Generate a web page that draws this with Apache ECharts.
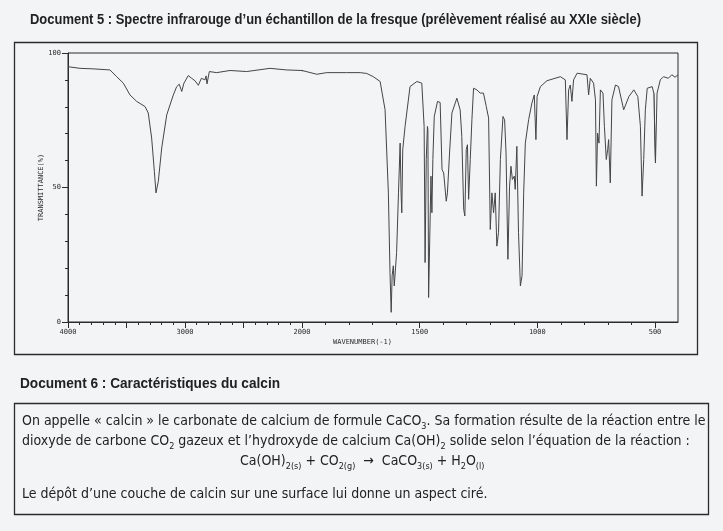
<!DOCTYPE html>
<html><head><meta charset="utf-8">
<script src="https://cdn.jsdelivr.net/npm/echarts@6/dist/echarts.min.js"></script>
<style>html,body{margin:0;padding:0;background:#f2f4f6}#c{width:723px;height:531px}</style>
</head><body><div id="c"></div>
<script>
// ---- data ----
const wavenumbers = [4000,3897,3784,3641,3584,3527,3470,3413,3342,3314,3285,3262,3248,3228,3199,3156,3100,3071,3049,3028,3009,2972,2943,2915,2886,2860,2829,2820,2812,2792,2729,2615,2473,2274,2131,2000,
1937,1895,1810,1753,1725,1697,1668,1661,1647,1633,1626,1621,1617,1612,1608,1598,1590,1583,1579,1576,1572,1562,1541,1512,1491,1481,1477,1472,1467,1465,1462,1452,1448,1444,1438,1424,1413,1405,1398,1387,1382,1373,1363,1342,1328,1321,1313,1308,1302,1297,1292,1285,1278,1271,1257,1243,1229,1217,1207,1200,1193,1186,1179,1172,1165,1157,1146,1139,1133,1125,1118,1112,1106,1098,1094,1087,1080,1072,1065,1058,1051,1037,1023,1013,1006,1001,987,959,902,881,874,867,860,853,846,831,789,782,775,767,761,753,749,744,738,732,721,715,707,701,697,690,683,668,655,633,611,590,573,562,555,548,541,533,512,505,498,491,477,463,442,427,413,400];
const transmittance = [94.9,94.3,94.1,93.7,91.2,88.8,84.4,82.0,80.1,77.7,68.4,56.0,48.0,52.3,64.7,77.0,84.4,87.5,88.4,85.7,88.8,91.6,90.6,89.7,88.0,90.6,90.0,91.5,88.5,93.1,92.7,93.5,93.1,94.3,93.7,93.5,
92.1,92.7,92.7,92.7,92.4,91.2,89.4,88.8,78.9,48.0,18.4,3.6,17.2,20.9,13.4,25.8,48.0,66.5,48.0,40.6,64.0,72.7,87.5,89.4,88.8,72.7,22.1,60.4,72.7,71.5,9.1,54.2,40.6,60.4,76.4,82.0,81.6,56.7,55.4,44.9,48.0,62.8,77.7,83.2,78.9,69.0,41.9,39.4,64.1,65.9,45.6,60.4,75.2,86.9,86.3,85.1,85.1,80.1,75.8,34.4,48.0,40.6,48.0,28.2,33.2,60.4,76.4,75.2,62.8,23.3,50.5,57.9,53.0,54.2,49.3,65.3,33.2,13.4,17.2,48.0,66.5,75.2,81.4,84.4,67.8,83.8,87.5,89.7,91.2,90.0,67.8,86.3,88.1,82.0,90.0,92.5,91.9,84.4,90.6,91.2,88.8,82.6,50.5,70.2,66.5,86.3,85.1,72.7,60.4,64.1,67.8,51.7,82.6,88.1,87.5,78.9,83.8,86.3,83.8,72.7,46.8,60.4,78.9,86.9,87.5,85.1,59.1,85.1,90.0,91.2,90.6,91.9,91.0,91.9];
const xLabelsHigh = [4000, 3000, 2000];
const xLabelsLow = [1500, 1000, 500];
const yLabels = [0, 50, 100];

// three x-ranges: 4000-2000 (half scale), 2000-500, 500-400
const ranges = [[2000, 4000], [500, 2000], [400, 500]];
function seg(lo, hi) {
  const out = [];
  for (let i = 0; i < wavenumbers.length; i++) {
    const w = wavenumbers[i];
    const prevIn = i > 0 && wavenumbers[i-1] >= lo && wavenumbers[i-1] <= hi;
    const nextIn = i < wavenumbers.length-1 && wavenumbers[i+1] >= lo && wavenumbers[i+1] <= hi;
    if ((w >= lo && w <= hi) || prevIn || nextIn) out.push([w, transmittance[i]]);
  }
  return out;
}

const INK = '#2b2b2b';
const MONO = '"DejaVu Sans Mono", "Liberation Mono", monospace';
const TXT = '"Liberation Sans Narrow", "DejaVu Sans Condensed", "Liberation Sans", sans-serif';
const BOLD = 'bold 14px "Liberation Sans", sans-serif';

const mctx = document.createElement('canvas').getContext('2d');
function fitScale(text, font, target) {
  mctx.font = font;
  return target / mctx.measureText(text).width;
}

const chart = echarts.init(document.getElementById('c'), null, {renderer: 'canvas'});

const grids = [
  {left: 68, top: 53, width: 234, height: 269},
  {left: 302, top: 53, width: 353, height: 269},
  {left: 655, top: 53, width: 23, height: 269},
  {left: 68, top: 53, width: 610, height: 269, show: true, borderColor: INK, borderWidth: 1, backgroundColor: 'transparent'}
];

const axisLineStyle = {show: true, lineStyle: {color: INK, width: 1}};
const xAxes = [
  {gridIndex: 0, type: 'value', min: 2000, max: 4000, inverse: true, interval: 500,
   axisLine: axisLineStyle, splitLine: {show: false},
   axisTick: {show: true, length: 6, lineStyle: {color: INK}},
   minorTick: {show: true, splitNumber: 5, length: 3, lineStyle: {color: INK}},
   axisLabel: {margin: 7, fontSize: 7, fontFamily: MONO, color: INK,
     formatter: v => xLabelsHigh.includes(v) ? String(v) : ''}},
  {gridIndex: 1, type: 'value', min: 500, max: 2000, inverse: true, interval: 500,
   axisLine: axisLineStyle, splitLine: {show: false},
   axisTick: {show: true, length: 6, lineStyle: {color: INK}},
   minorTick: {show: true, splitNumber: 5, length: 3, lineStyle: {color: INK}},
   axisLabel: {margin: 7, fontSize: 7, fontFamily: MONO, color: INK,
     formatter: v => xLabelsLow.includes(v) ? String(v) : ''}},
  {gridIndex: 2, type: 'value', min: 400, max: 500, inverse: true,
   axisLine: axisLineStyle, splitLine: {show: false}, axisTick: {show: false}, axisLabel: {show: false}}
];
const yAxes = [
  {gridIndex: 0, type: 'value', min: 0, max: 100, interval: 50,
   name: 'TRANSMITTANCE(%)', nameLocation: 'middle', nameRotate: 90, nameGap: 22,
   nameTextStyle: {fontSize: 7, fontFamily: MONO, color: INK},
   axisLine: axisLineStyle, splitLine: {show: false},
   axisTick: {show: true, length: 6, lineStyle: {color: INK}},
   minorTick: {show: true, splitNumber: 5, length: 3, lineStyle: {color: INK}},
   axisLabel: {margin: 7, fontSize: 7, fontFamily: MONO, color: INK,
     formatter: v => yLabels.includes(v) ? String(v) : ''}},
  {gridIndex: 1, type: 'value', min: 0, max: 100, show: false},
  {gridIndex: 2, type: 'value', min: 0, max: 100, show: false}
];

const series = ranges.map((r, i) => ({
  type: 'line', xAxisIndex: i, yAxisIndex: i, data: seg(r[0], r[1]),
  showSymbol: false, symbol: 'none', clip: true, silent: true,
  lineStyle: {color: '#454545', width: 1}
}));

function sub(t) { return '{s|' + t + '}'; }
const rich = {
  s: {fontSize: 9, fontFamily: TXT, fill: '#222', verticalAlign: 'bottom', lineHeight: 9}
};
const body = {fontSize: 14, fontFamily: TXT, fill: '#222', lineHeight: 20};

const title5 = 'Document 5 : Spectre infrarouge d\u2019un échantillon de la fresque (prélèvement réalisé au XXIe siècle)';
const title6 = 'Document 6 : Caractéristiques du calcin';

const graphic = [
  {type: 'text', x: 30, y: 20, scaleX: fitScale(title5, BOLD, 611), style: {text: title5, font: BOLD, fill: '#222', textVerticalAlign: 'middle'}},
  {type: 'rect', shape: {x: 14.5, y: 42.5, width: 683, height: 312}, style: {fill: 'none', stroke: INK, lineWidth: 1.3}},
  {type: 'text', left: 333, top: 339, style: {text: 'WAVENUMBER(-1)', font: '7px ' + MONO, fill: INK}},
  {type: 'text', x: 20, y: 384, scaleX: fitScale(title6, BOLD, 260), style: {text: title6, font: BOLD, fill: '#222', textVerticalAlign: 'middle'}},
  {type: 'rect', shape: {x: 14.5, y: 403.5, width: 694, height: 111}, style: {fill: 'none', stroke: INK, lineWidth: 1.3}},
  {type: 'text', left: 22, top: 411, style: Object.assign({}, body, {text: 'On appelle « calcin » le carbonate de calcium de formule CaCO' + sub('3') + '. Sa formation résulte de la réaction entre le', rich})},
  {type: 'text', left: 22, top: 431, style: Object.assign({}, body, {text: 'dioxyde de carbone CO' + sub('2') + ' gazeux et l\u2019hydroxyde de calcium Ca(OH)' + sub('2') + ' solide selon l\u2019équation de la réaction :', rich})},
  {type: 'text', left: 240, top: 451, style: Object.assign({}, body, {text: 'Ca(OH)' + sub('2(s)') + ' + CO' + sub('2(g)') + '  \u2192  CaCO' + sub('3(s)') + ' + H' + sub('2') + 'O' + sub('(l)'), rich})},
  {type: 'text', left: 22, top: 484, style: Object.assign({}, body, {text: 'Le dépôt d\u2019une couche de calcin sur une surface lui donne un aspect ciré.', rich})}
];

chart.setOption({
  backgroundColor: '#f2f4f6',
  animation: false,
  grid: grids,
  xAxis: xAxes,
  yAxis: yAxes,
  series: series,
  graphic: graphic
});
</script></body></html>
